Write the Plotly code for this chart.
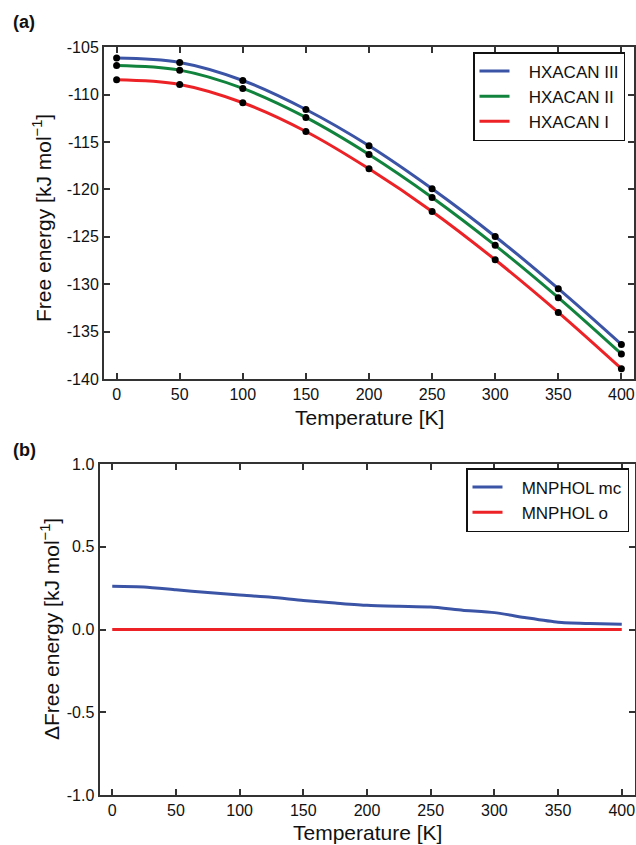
import plotly.graph_objects as go

# ---------------- data ----------------
temps_a = [0, 50, 100, 150, 200, 250, 300, 350, 400]
hxacan_iii = [-106.14, -106.60, -108.50, -111.56, -115.39, -119.93, -124.96, -130.47, -136.35]
hxacan_ii = [-106.92, -107.41, -109.34, -112.40, -116.31, -120.84, -125.90, -131.42, -137.36]
hxacan_i = [-108.43, -108.92, -110.85, -113.88, -117.82, -122.32, -127.42, -132.97, -138.91]

temps_b = [0, 25, 50, 75, 100, 125, 150, 175, 200, 225, 250, 275, 300, 325, 350, 375, 400]
mnphol_mc = [0.261, 0.257, 0.240, 0.223, 0.208, 0.195, 0.175, 0.160, 0.146, 0.140, 0.136,
             0.117, 0.102, 0.071, 0.044, 0.036, 0.031]
mnphol_o = [0.0] * len(temps_b)

x_ticks = [0, 50, 100, 150, 200, 250, 300, 350, 400]
x_ticktext = ["0", "50", "100", "150", "200", "250", "300", "350", "400"]
ya_ticks = [-105, -110, -115, -120, -125, -130, -135, -140]
ya_ticktext = ["-105", "-110", "-115", "-120", "-125", "-130", "-135", "-140"]
yb_ticks = [1.0, 0.5, 0.0, -0.5, -1.0]
yb_ticktext = ["1.0", "0.5", "0.0", "-0.5", "-1.0"]

BLUE = "#3B54A5"
GREEN = "#12833C"
RED = "#EC2227"
FONT = "Liberation Sans"
W, H = 636, 845

fig = go.Figure()

nb = "\u00a0\u00a0\u00a0"
for name, ys, col in [("HXACAN III", hxacan_iii, BLUE),
                      ("HXACAN II", hxacan_ii, GREEN),
                      ("HXACAN I", hxacan_i, RED)]:
    fig.add_trace(go.Scatter(x=temps_a, y=ys, mode="lines", name=nb + name,
                             line=dict(color=col, width=3, shape="spline", smoothing=1),
                             xaxis="x", yaxis="y", legend="legend"))
for ys in [hxacan_iii, hxacan_ii, hxacan_i]:
    fig.add_trace(go.Scatter(x=temps_a, y=ys, mode="markers", showlegend=False,
                             marker=dict(color="black", size=7),
                             xaxis="x", yaxis="y"))

fig.add_trace(go.Scatter(x=temps_b, y=mnphol_mc, mode="lines", name=nb + "MNPHOL mc",
                         line=dict(color=BLUE, width=3, shape="spline", smoothing=0.6),
                         xaxis="x2", yaxis="y2", legend="legend2"))
fig.add_trace(go.Scatter(x=temps_b, y=mnphol_o, mode="lines", name=nb + "MNPHOL o",
                         line=dict(color=RED, width=3),
                         xaxis="x2", yaxis="y2", legend="legend2"))

axis_common = dict(showline=True, linecolor="#333333", linewidth=2, mirror="ticks",
                   ticks="inside", ticklen=6, tickwidth=1.5, tickcolor="#333333",
                   showgrid=False, zeroline=False, automargin=False,
                   tickfont=dict(family=FONT, size=16, color="#111111"))

fig.update_layout(
    template="none",
    width=W, height=H,
    margin=dict(l=0, r=0, t=0, b=0, pad=0, autoexpand=False),
    paper_bgcolor="white", plot_bgcolor="white",
    font=dict(family=FONT, color="#111111"),
    xaxis=dict(domain=[104 / W, 634 / W], range=[-10, 410], tickvals=x_ticks,
               ticktext=x_ticktext, anchor="y", **axis_common),
    yaxis=dict(domain=[1 - 379 / H, 1 - 47.3 / H], range=[-140, -105], tickvals=ya_ticks,
               ticktext=ya_ticktext, anchor="x", **axis_common),
    xaxis2=dict(domain=[99.5 / W, 634.5 / W], range=[-10, 410], tickvals=x_ticks,
                ticktext=x_ticktext, anchor="y2", **axis_common),
    yaxis2=dict(domain=[1 - 795 / H, 1 - 464 / H], range=[-1, 1], tickvals=yb_ticks,
                ticktext=yb_ticktext, anchor="x2", **axis_common),
    legend=dict(x=625 / W, xanchor="right", y=1 - 52 / H, yanchor="top",
                bordercolor="#111111", borderwidth=1.5, bgcolor="white",
                font=dict(family=FONT, size=17, color="#111111"), tracegroupgap=0),
    legend2=dict(x=629 / W, xanchor="right", y=1 - 468 / H, yanchor="top",
                 bordercolor="#111111", borderwidth=1.5, bgcolor="white",
                 font=dict(family=FONT, size=17, color="#111111"), tracegroupgap=0),
    showlegend=True,
)

ann_font = dict(family=FONT, size=21, color="#111111")
annotations = [
    dict(text="<b>(a)</b>", x=11 / W, y=1 - 22 / H, xanchor="left", yanchor="middle",
         font=dict(family=FONT, size=18, color="#111111"), showarrow=False),
    dict(text="<b>(b)</b>", x=11 / W, y=1 - 450 / H, xanchor="left", yanchor="middle",
         font=dict(family=FONT, size=18, color="#111111"), showarrow=False),
    dict(text="Temperature [K]", x=369 / W, y=1 - 418 / H, xanchor="center", yanchor="middle",
         font=ann_font, showarrow=False),
    dict(text="Temperature [K]", x=367 / W, y=1 - 832 / H, xanchor="center", yanchor="middle",
         font=ann_font, showarrow=False),
    dict(text="Free energy [kJ mol<sup>−1</sup>]", x=42 / W, y=1 - 218 / H, textangle=-90,
         xanchor="center", yanchor="middle", font=ann_font, showarrow=False),
    dict(text="ΔFree energy [kJ mol<sup>−1</sup>]", x=50 / W, y=1 - 629 / H, textangle=-90,
         xanchor="center", yanchor="middle", font=ann_font, showarrow=False),
]
for a in annotations:
    a["xref"] = "paper"
    a["yref"] = "paper"
fig.update_layout(annotations=annotations)

fig.write_html("out.html")
